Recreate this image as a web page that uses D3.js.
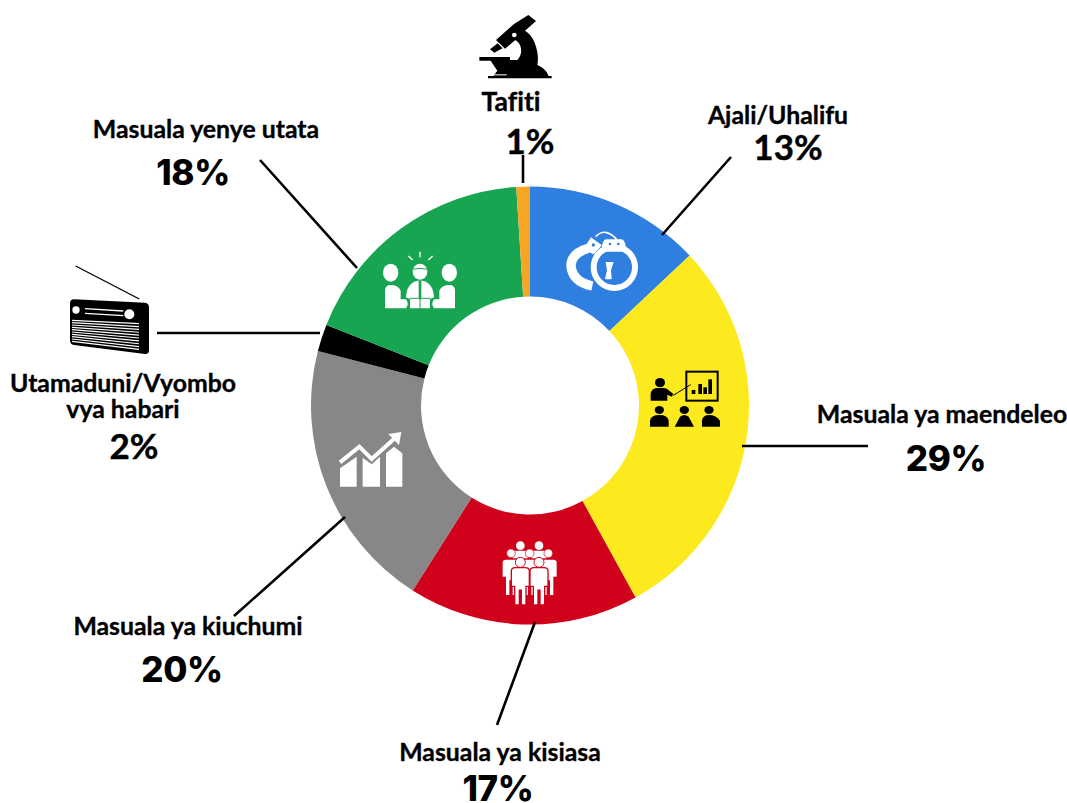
<!DOCTYPE html>
<html><head><meta charset="utf-8">
<script src="https://cdn.jsdelivr.net/npm/d3@7"></script>
<style>html,body{margin:0;padding:0;background:#fff}svg{display:block}text{font-family:Lato,sans-serif;fill:#000;font-variant-ligatures:none}</style>
</head><body><svg id="c" width="1067" height="803"></svg>
<script>
const categories=["Ajali/Uhalifu","Masuala ya maendeleo","Masuala ya kisiasa","Masuala ya kiuchumi","Utamaduni/Vyombo vya habari","Masuala yenye utata","Tafiti"];
const shares=[13,29,17,20,2,18,1];
const sliceColors=["#2f7fe0","#fcea1f","#d0021b","#878787","#000000","#17a552","#f5a623"];
const labelLines=[["Ajali/Uhalifu"],["Masuala ya maendeleo"],["Masuala ya kisiasa"],["Masuala ya kiuchumi"],["Utamaduni/Vyombo","vya habari"],["Masuala yenye utata"],["Tafiti"]];
// layout of annotation furniture: [labelX,firstLineY,pctX,pctY,leader x1,y1,x2,y2]
const annot=[[778,123.5,788,160,662,235,731,157],[942,423,946,471,742,446,868,446],[500,761,498,801,535,622,497,725],[188,635,182,682,345,517,234,616],[123,392,134,459,320,333,157,333],[206,138,193,185,357,268,260,160],[511,111,530,154,523,183,523,155]];
// the three smaller shares use the lighter humanist numerals of the reference
const lightPct=[true,false,false,false,true,false,true];

const svg=d3.select("#c");
const cx=530,cy=405.5,R=219,r=109;
const pie=d3.pie().sort(null).value(d=>d)(shares);
const arc=d3.arc().innerRadius(r).outerRadius(R);
const g=svg.append("g").attr("transform",`translate(${cx},${cy})`);
g.selectAll("path").data(pie).join("path").attr("d",arc).attr("fill",(d,i)=>sliceColors[i]);

// leaders
svg.append("g").selectAll("line").data(annot).join("line")
 .attr("x1",d=>d[4]).attr("y1",d=>d[5]).attr("x2",d=>d[6]).attr("y2",d=>d[7])
 .attr("stroke","#000").attr("stroke-width",2.6);

// labels
annot.forEach((a,i)=>{
  labelLines[i].forEach((t,k)=>svg.append("text").attr("x",a[0]).attr("y",a[1]+k*25.5).attr("text-anchor","middle")
    .attr("font-size",t==="Tafiti"?26.5:24.8).attr("font-weight",700).attr("stroke","#000").attr("stroke-width",0.35).text(t));
  const p=svg.append("text").attr("x",a[2]).attr("y",a[3]).attr("text-anchor","middle").text(d3.format("d")(shares[i])+"%");
  if(lightPct[i]) p.attr("font-size",35).attr("font-weight",700).attr("stroke","#000").attr("stroke-width",0.4);
  else p.attr("font-size",35).attr("font-weight",800).style("font-family","Inter,sans-serif").style("letter-spacing","-0.4px");
});

// icons: drawn in 3x local coordinates
function icon(x,y){return svg.append("g").attr("transform",`translate(${x},${y}) scale(${1/3})`);}

// microscope
{const k=icon(460,0);
 k.append("path").attr("fill","#000").attr("d","M84,228H275V235H84Z M162,72L205,45L228,63L195,92L190,100L135,146L108,120Z M90,148L113,130L128,145L103,158Z M165,85Q205,85 224,128Q238,165 232,195Q258,205 266,228H100L112,212L92,182H58V171H150V180H172Q190,160 180,135Q170,115 150,118Z");
 k.append("circle").attr("cx",163).attr("cy",105).attr("r",7).attr("fill","#fff");
 k.append("rect").attr("x",100).attr("y",223).attr("width",40).attr("height",3).attr("fill","#fff");
}
// radio
{const k=icon(50,255);
 k.append("line").attr("x1",77).attr("y1",33).attr("x2",268).attr("y2",132).attr("stroke","#000").attr("stroke-width",4);
 k.append("path").attr("fill","#000").attr("d","M72,133L285,143Q297,145 297,158V285Q297,298 285,297L72,270Q60,268 60,255V145Q60,133 72,133Z");
 k.append("circle").attr("cx",78).attr("cy",165).attr("r",11).attr("fill","#fff");
 k.append("circle").attr("cx",238).attr("cy",178).attr("r",15).attr("fill","#fff");
 [0,1].forEach(i=>k.append("line").attr("x1",105).attr("y1",161+i*14).attr("x2",220).attr("y2",168+i*14).attr("stroke","#fff").attr("stroke-width",4));
 d3.range(10).forEach(i=>k.append("line").attr("x1",66).attr("y1",196+i*7).attr("x2",267).attr("y2",206+i*8.6).attr("stroke","#fff").attr("stroke-width",3.6));
}
// meeting
{const k=icon(370,240);
 const w="#fff";
 [[62,98],[238,98]].forEach(p=>k.append("ellipse").attr("cx",p[0]).attr("cy",p[1]).attr("rx",23).attr("ry",27).attr("fill",w));
 k.append("path").attr("fill",w).attr("d","M45,152Q45,135 62,135Q85,135 92,152V178H108Q118,190 108,205H45Z");
 k.append("path").attr("fill",w).attr("d","M255,152Q255,135 238,135Q215,135 208,152V178H192Q182,190 192,205H255Z");
 k.append("ellipse").attr("cx",150).attr("cy",95).attr("rx",22).attr("ry",24).attr("fill",w);
 k.append("path").attr("fill","none").attr("stroke","#17a552").attr("stroke-width",3).attr("d","M128,88Q150,82 172,88");
 k.append("path").attr("fill",w).attr("d","M108,172Q110,130 142,122H158Q190,130 192,172L180,178V205H120V178Z");
 k.append("path").attr("fill","#17a552").attr("d","M146,122H154V172L150,180L146,172Z");
 k.append("path").attr("stroke","#17a552").attr("stroke-width",3).attr("d","M150,175V208 M118,175H182");
 [[150,35,150,52],[115,48,128,60],[188,48,175,60]].forEach(l=>k.append("line").attr("x1",l[0]).attr("y1",l[1]).attr("x2",l[2]).attr("y2",l[3]).attr("stroke",w).attr("stroke-width",4));
}
// handcuffs
{const k=icon(555,220);
 k.append("path").attr("fill","none").attr("stroke","#fff").attr("stroke-width",5).attr("d","M122,50Q150,20 185,58");
 k.append("path").attr("fill","none").attr("stroke","#fff").attr("stroke-width",28).attr("d","M100,85Q48,100 48,138Q52,185 112,198");
 k.append("path").attr("fill","#fff").attr("d","M108,52L140,75L120,105L85,88Z");
 k.append("circle").attr("cx",115).attr("cy",75).attr("r",5).attr("fill","#2f7fe0");
 k.append("circle").attr("cx",178).attr("cy",142).attr("r",73).attr("fill","#2f7fe0");
 k.append("circle").attr("cx",178).attr("cy",142).attr("r",62).attr("fill","none").attr("stroke","#fff").attr("stroke-width",18);
 k.append("path").attr("fill","#fff").attr("d","M152,58H200Q212,60 214,95H140Q140,62 152,58Z");
 [[165,72],[190,72]].forEach(p=>k.append("circle").attr("cx",p[0]).attr("cy",p[1]).attr("r",4).attr("fill","#2f7fe0"));
 k.append("path").attr("fill","#fff").attr("d","M152,126H176L168,150L170,178H150L156,150Z");
}
// presentation
{const k=icon(640,360);
 k.append("rect").attr("x",139).attr("y",35).attr("width",94).attr("height",87).attr("fill","none").attr("stroke","#000").attr("stroke-width",6);
 [[155,90],[175,72],[190,82],[205,58]].forEach(b=>k.append("rect").attr("x",b[0]).attr("y",b[1]).attr("width",11).attr("height",102-b[1]).attr("fill","#000"));
 k.append("ellipse").attr("cx",60).attr("cy",68).attr("rx",15).attr("ry",14).attr("fill","#000");
 k.append("path").attr("fill","#000").attr("d","M32,122V100Q35,84 55,84H72Q82,84 88,92L100,102L95,110L82,104V122Z");
 k.append("line").attr("x1",100).attr("y1",106).attr("x2",152).attr("y2",74).attr("stroke","#000").attr("stroke-width",3);
 [[58,"M30,200V182Q32,165 58,165Q84,165 86,182V200Z"],[133,"M104,200L120,170Q133,160 146,170L162,200Z"],[207,"M186,200V180Q190,165 207,165Q228,165 240,182V200Z"]].forEach(p=>{
   k.append("ellipse").attr("cx",p[0]).attr("cy",150).attr("rx",14).attr("ry",12).attr("fill","#000");
   k.append("path").attr("fill","#000").attr("d",p[1]);});
}
// people
{const k=icon(490,530);
 const person=(x,y,s,h)=>{
  k.append("path").attr("fill","#fff").attr("stroke","#d0021b").attr("stroke-width",4)
   .attr("d",`M${x-27*s},${y+10}Q${x-27*s},${y} ${x-15*s},${y}H${x+15*s}Q${x+27*s},${y} ${x+27*s},${y+10}V${y+h*.5}H${x+17*s}V${y+h}H${x+3}V${y+h*.6}H${x-3}V${y+h}H${x-17*s}V${y+h*.5}H${x-27*s}Z`);
 };
 [[91,47],[147,47]].forEach(p=>{person(p[0],60,.9,60);k.append("circle").attr("cx",p[0]).attr("cy",p[1]).attr("r",13).attr("fill","#fff");});
 [[63,70],[119,70],[175,70]].forEach(p=>{person(p[0],87,1,110);k.append("circle").attr("cx",p[0]).attr("cy",p[1]).attr("r",13).attr("stroke","#d0021b").attr("stroke-width",2).attr("fill","#fff");});
 [[91,97],[147,97]].forEach(p=>{person(p[0],113,1,112);k.append("circle").attr("cx",p[0]).attr("cy",p[1]).attr("r",15).attr("stroke","#d0021b").attr("stroke-width",3).attr("fill","#fff");});
}
// growth
{const k=icon(330,425);
 k.append("path").attr("fill","#fff").attr("d","M30,130L80,95V185H30Z M98,98L125,118L150,95V185H98Z M168,85L192,65L217,85V185H168Z");
 k.append("path").attr("fill","none").attr("stroke","#fff").attr("stroke-width",12).attr("d","M30,112L88,65L125,102L196,38");
 k.append("path").attr("fill","#fff").attr("d","M175,27L214,21L207,60Z");
}
</script></body></html>
